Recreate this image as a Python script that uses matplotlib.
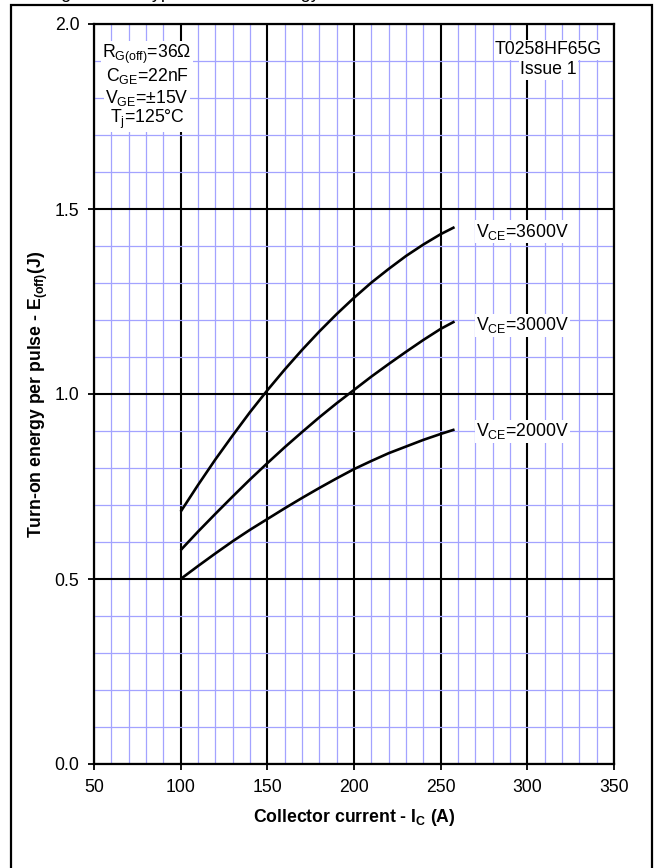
import numpy as np
import matplotlib
matplotlib.use("Agg")
import matplotlib.pyplot as plt
from matplotlib.ticker import MultipleLocator, FormatStrFormatter
from matplotlib.patches import Rectangle

plt.rcParams['font.family'] = ['Liberation Sans', 'DejaVu Sans']
plt.rcParams['mathtext.fontset'] = 'custom'
plt.rcParams['mathtext.rm'] = 'Liberation Sans'
plt.rcParams['mathtext.it'] = 'Liberation Sans:italic'
plt.rcParams['mathtext.bf'] = 'Liberation Sans:bold'

# collector current (A) and turn-off energy (J)
ic = [100, 110, 120, 130, 140, 150, 160, 170, 180, 190, 200,
      210, 220, 230, 240, 250, 258]
e_3600 = [0.682, 0.754, 0.823, 0.888, 0.951, 1.010, 1.066, 1.119, 1.169, 1.216, 1.260,
          1.301, 1.338, 1.373, 1.404, 1.432, 1.451]
e_3000 = [0.578, 0.628, 0.676, 0.723, 0.769, 0.813, 0.856, 0.897, 0.937, 0.975, 1.011,
          1.047, 1.081, 1.114, 1.146, 1.176, 1.196]
e_2000 = [0.500, 0.535, 0.569, 0.602, 0.633, 0.662, 0.691, 0.719, 0.746, 0.772, 0.797,
          0.819, 0.840, 0.858, 0.876, 0.892, 0.904]

curve_labels = [r'V$_{\mathrm{CE}}$=3600V', r'V$_{\mathrm{CE}}$=3000V', r'V$_{\mathrm{CE}}$=2000V']
conditions = [r'R$_{\mathrm{G(off)}}$=36Ω', r'C$_{\mathrm{GE}}$=22nF',
              r'V$_{\mathrm{GE}}$=±15V', r'T$_{\mathrm{j}}$=125°C']

W, H = 657, 868
fig = plt.figure(figsize=(W / 100, H / 100), dpi=100)
fig.patch.set_facecolor('white')

# outer frame of the figure block
fig.patches.append(Rectangle((11 / W, -0.05), 641 / W, 1.05 - 5 / H,
                             transform=fig.transFigure, fill=False,
                             edgecolor='black', linewidth=1.6))

# title, cut off at the top edge as in the source page
fig.text(46 / W, 1 + 1.5 / H, 'Figure 14 \u2013 Typical turn-off energy',
         fontsize=13, va='baseline', ha='left')

ax = fig.add_axes([94 / W, 1 - 764 / H, 520 / W, 740 / H])
ax.set_xlim(50, 350)
ax.set_ylim(0, 2.0)

ax.xaxis.set_major_locator(MultipleLocator(50))
ax.xaxis.set_minor_locator(MultipleLocator(10))
ax.yaxis.set_major_locator(MultipleLocator(0.5))
ax.yaxis.set_minor_locator(MultipleLocator(0.1))
ax.yaxis.set_major_formatter(FormatStrFormatter('%.1f'))

ax.grid(which='minor', color='#a3a3ff', linewidth=0.9)
ax.grid(which='major', color='black', linewidth=1.5)
ax.set_axisbelow(True)

ax.tick_params(which='major', direction='out', length=4.5, width=1.3,
               labelsize=12.7, pad=6)
ax.tick_params(which='minor', length=0)
for s in ax.spines.values():
    s.set_linewidth(1.6)

for e in (e_3600, e_3000, e_2000):
    ax.plot(ic, e, color='black', linewidth=1.9, solid_capstyle='butt')

label_y = [1.439, 1.186, 0.899]
for txt, y in zip(curve_labels, label_y):
    ax.text(270.4, y, txt, fontsize=12.7, va='center', ha='left',
            bbox=dict(facecolor='white', edgecolor='none', pad=1.0))

cond_y = [1.919, 1.859, 1.800, 1.743]
for txt, y in zip(conditions, cond_y):
    ax.text(80.6, y, txt, fontsize=12.7, va='center', ha='center',
            bbox=dict(facecolor='white', edgecolor='none', pad=1.0))

ax.text(312.3, 1.930, 'T0258HF65G', fontsize=12.7, va='center', ha='center',
        bbox=dict(facecolor='white', edgecolor='none', pad=1.0))
ax.text(312.3, 1.876, 'Issue 1', fontsize=12.7, va='center', ha='center',
        bbox=dict(facecolor='white', edgecolor='none', pad=1.0))

ax.set_xlabel(r'Collector current - $\mathbf{I_C}$ (A)', fontsize=12.7,
              fontweight='bold', labelpad=8)
ax.set_ylabel(r'Turn-on energy per pulse - $\mathbf{E_{(off)}}$(J)', fontsize=12.7,
              fontweight='bold', labelpad=3)

fig.savefig('out.png', dpi=100, facecolor='white')
